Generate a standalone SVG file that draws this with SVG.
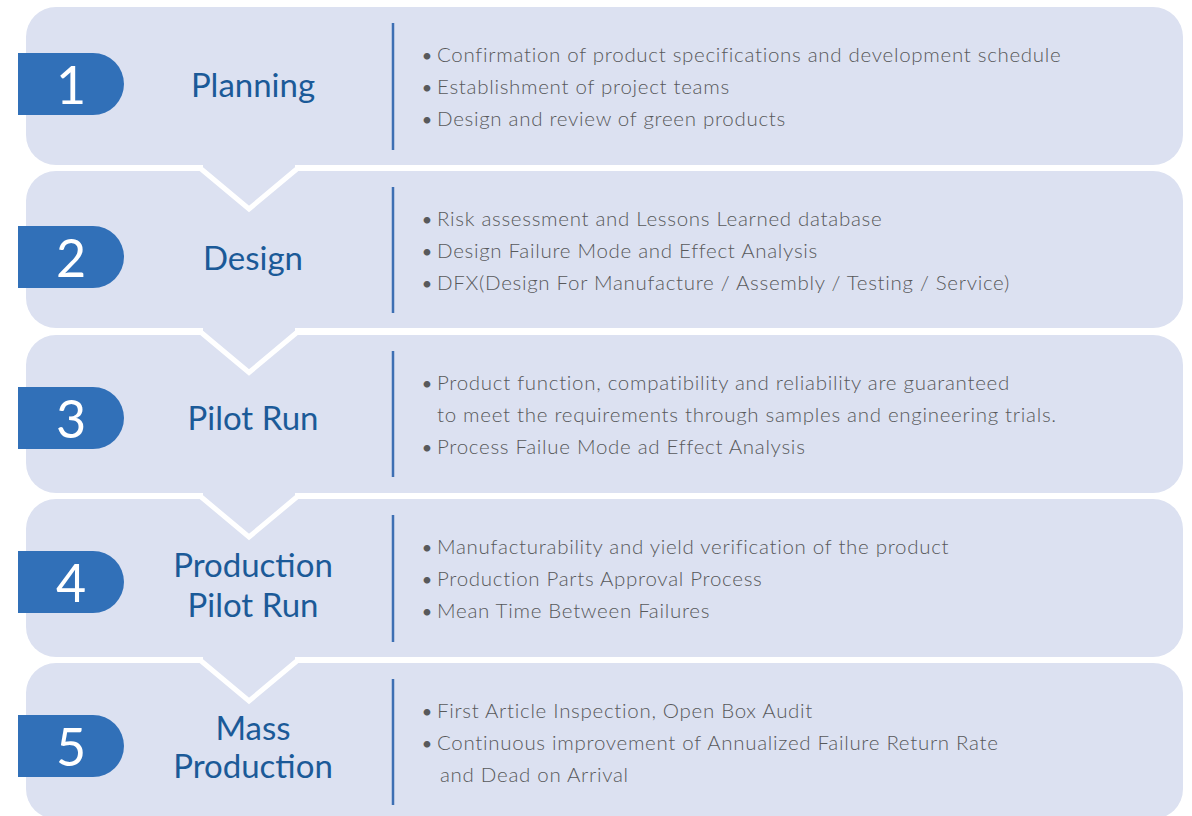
<svg xmlns="http://www.w3.org/2000/svg" width="1192" height="816" viewBox="0 0 1192 816">
<style>
.panel{fill:#dce1f1}
.badge{fill:#3170b8}
.num{fill:#ffffff;font-family:Lato,"Noto Sans",sans-serif;font-size:52px;font-weight:400;text-anchor:middle}
.title{fill:#1b5a98;font-family:Lato,"Noto Sans",sans-serif;font-size:33px;text-anchor:middle}
.div{stroke:#3d6fb3;stroke-width:2.5}
.body{fill:#58595b;font-family:Lato,"Noto Sans",sans-serif;font-size:20.5px;font-weight:300;letter-spacing:0.7px}
.bul{fill:#58595b;font-family:Lato,"Noto Sans",sans-serif;font-size:18px;text-anchor:middle}
.fill{fill:#dce1f1}
.v{fill:none;stroke:#ffffff;stroke-width:5;stroke-linejoin:miter}
</style>
<rect width="1192" height="816" fill="#ffffff"/>
<g id="step1">
<rect class="panel" x="26" y="7" width="1157" height="158" rx="30"/>
<path class="badge" d="M18,53 H93 A31,31 0 0 1 93,115 H18 Z"/>
<text class="num" x="71" y="104">1</text>
<text class="title" x="253" y="97">Planning</text>
<line class="div" x1="393" y1="23" x2="393" y2="150"/>
<text class="bul" x="427" y="62">•</text><text class="body" x="437" y="62">Confirmation of product specifications and development schedule</text>
<text class="bul" x="427" y="94">•</text><text class="body" x="437" y="94">Establishment of project teams</text>
<text class="bul" x="427" y="126">•</text><text class="body" x="437" y="126">Design and review of green products</text>
</g>
<g id="step2">
<rect class="panel" x="26" y="171" width="1157" height="157" rx="30"/>
<path class="badge" d="M18,226 H93 A31,31 0 0 1 93,288 H18 Z"/>
<text class="num" x="71" y="277">2</text>
<text class="title" x="253" y="270">Design</text>
<line class="div" x1="393" y1="187" x2="393" y2="313"/>
<text class="bul" x="427" y="226">•</text><text class="body" x="437" y="226">Risk assessment and Lessons Learned database</text>
<text class="bul" x="427" y="258">•</text><text class="body" x="437" y="258">Design Failure Mode and Effect Analysis</text>
<text class="bul" x="427" y="290">•</text><text class="body" x="437" y="290">DFX(Design For Manufacture / Assembly / Testing / Service)</text>
</g>
<g id="step3">
<rect class="panel" x="26" y="335" width="1157" height="158" rx="30"/>
<path class="badge" d="M18,387 H93 A31,31 0 0 1 93,449 H18 Z"/>
<text class="num" x="71" y="438">3</text>
<text class="title" x="253" y="430">Pilot Run</text>
<line class="div" x1="393" y1="351" x2="393" y2="477"/>
<text class="bul" x="427" y="390">•</text><text class="body" x="437" y="390">Product function, compatibility and reliability are guaranteed</text>
<text class="body" x="437" y="422">to meet the requirements through samples and engineering trials.</text>
<text class="bul" x="427" y="454">•</text><text class="body" x="437" y="454">Process Failue Mode ad Effect Analysis</text>
</g>
<g id="step4">
<rect class="panel" x="26" y="499" width="1157" height="158" rx="30"/>
<path class="badge" d="M18,551 H93 A31,31 0 0 1 93,613 H18 Z"/>
<text class="num" x="71" y="602">4</text>
<text class="title" x="253" y="577">Production</text>
<text class="title" x="253" y="617">Pilot Run</text>
<line class="div" x1="393" y1="515" x2="393" y2="642"/>
<text class="bul" x="427" y="554">•</text><text class="body" x="437" y="554">Manufacturability and yield verification of the product</text>
<text class="bul" x="427" y="586">•</text><text class="body" x="437" y="586">Production Parts Approval Process</text>
<text class="bul" x="427" y="618">•</text><text class="body" x="437" y="618">Mean Time Between Failures</text>
</g>
<g id="step5">
<rect class="panel" x="26" y="663" width="1157" height="156" rx="30"/>
<path class="badge" d="M18,715 H93 A31,31 0 0 1 93,777 H18 Z"/>
<text class="num" x="71" y="766">5</text>
<text class="title" x="253" y="740">Mass</text>
<text class="title" x="253" y="778">Production</text>
<line class="div" x1="393" y1="679" x2="393" y2="805"/>
<text class="bul" x="427" y="718">•</text><text class="body" x="437" y="718">First Article Inspection, Open Box Audit</text>
<text class="bul" x="427" y="750">•</text><text class="body" x="437" y="750">Continuous improvement of Annualized Failure Return Rate</text>
<text class="body" x="440" y="782">and Dead on Arrival</text>
</g>
<g id="connectors">
<polygon class="fill" points="203,164 295,164 295,168 249,209 203,168"/>
<polyline class="v" points="200,168 249,209 298,168"/>
<polygon class="fill" points="203,327 295,327 295,331.5 249,372.5 203,331.5"/>
<polyline class="v" points="200,331.5 249,372.5 298,331.5"/>
<polygon class="fill" points="203,492 295,492 295,496 249,537 203,496"/>
<polyline class="v" points="200,496 249,537 298,496"/>
<polygon class="fill" points="203,656 295,656 295,660 249,701 203,660"/>
<polyline class="v" points="200,660 249,701 298,660"/>
</g>
</svg>
